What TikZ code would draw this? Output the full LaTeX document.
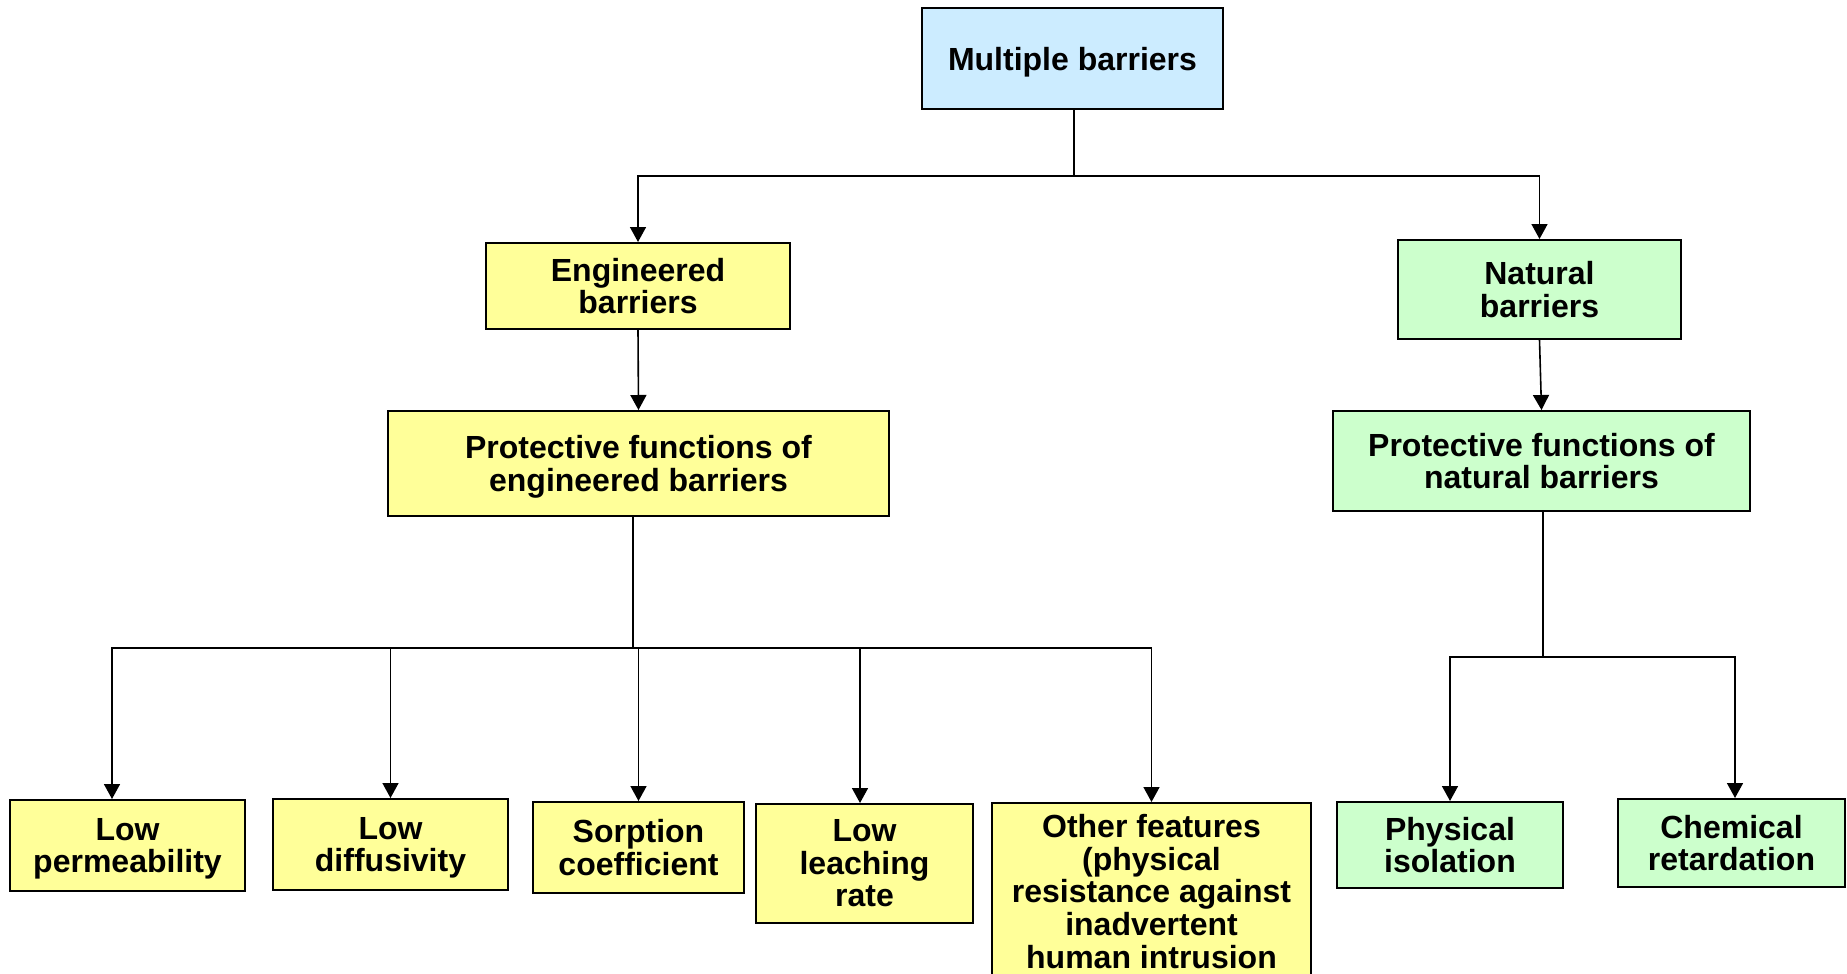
\documentclass[tikz,border=0pt]{standalone}
\usepackage{fontspec}
\setmainfont{Liberation Sans}
\usetikzlibrary{arrows.meta}

\definecolor{boxblue}{RGB}{204,236,255}
\definecolor{boxyellow}{RGB}{255,255,153}
\definecolor{boxgreen}{RGB}{204,255,204}

% a line whose descenders do not count for vertical centring
\newcommand\nodepth[1]{\raisebox{0pt}[\height][0pt]{#1}}

\tikzset{
  box/.style={draw=black, line width=1pt, inner sep=0pt, align=center,
    font=\fontsize{16pt}{16.3pt}\selectfont\bfseries},
  blue box/.style={box, fill=boxblue},
  yellow box/.style={box, fill=boxyellow},
  green box/.style={box, fill=boxgreen},
  conn/.style={draw=black, line width=0.8pt},
  arr/.style={conn, -{Triangle[length=7.5pt,width=8pt]}}
}

\begin{document}
\begin{tikzpicture}[x=0.5pt, y=-0.5pt]
  \clip (0,0) rectangle (1847,974);
  \fill[white] (0,0) rectangle (1847,974);

  % top level
  \node[blue box, minimum width=150.5pt, minimum height=50.5pt] (mb) at (1072.5,58.5) {\nodepth{Multiple barriers}};

  % second level
  \node[yellow box, minimum width=152pt, minimum height=43pt] (eng) at (638,286) {Engineered\\barriers};
  \node[green box, minimum width=141.5pt, minimum height=49.5pt] (nat) at (1539.5,289.5) {Natural\\barriers};

  % protective functions
  \node[yellow box, minimum width=250.5pt, minimum height=52.5pt] (peng) at (638.5,463.5) {Protective functions of\\\nodepth{engineered barriers}};
  \node[green box, minimum width=208.5pt, minimum height=50pt] (pnat) at (1541.5,461) {Protective functions of\\natural barriers};

  % engineered barrier functions
  \node[yellow box, minimum width=117.5pt, minimum height=45.5pt] (lp) at (127.5,845.5) {Low\\\nodepth{permeability}};
  \node[yellow box, minimum width=117.5pt, minimum height=45.5pt] (ld) at (390.5,844.5) {Low\\\nodepth{diffusivity}};
  \node[yellow box, minimum width=105.5pt, minimum height=45.5pt] (sc) at (638.5,847.5) {Sorption\\coefficient};
  \node[yellow box, minimum width=108.5pt, minimum height=59.5pt] (lr) at (864.5,863.5) {Low\\leaching\\rate};
  \node[yellow box, minimum width=159.5pt, minimum height=88.5pt] (of) at (1151.5,891.5) {Other features\\(physical\\resistance against\\inadvertent\\human intrusion};

  % natural barrier functions
  \node[green box, minimum width=113pt, minimum height=43pt] (pi) at (1450,845) {Physical\\isolation};
  \node[green box, minimum width=113.5pt, minimum height=44pt] (cr) at (1731.5,843) {Chemical\\retardation};

  % junction points on the distribution lines
  \coordinate (jt) at (1074,176);
  \coordinate (je) at (633,648);
  \coordinate (jn) at (1543,657);

  % connectors
  \draw[conn] (mb.south -| jt) -- (jt);
  \draw[arr] (jt) -| (eng.north);
  \draw[arr] (jt) -| (nat.north);

  \draw[arr] (eng.south) -- (peng.north);
  \draw[arr] (nat.south) -- (pnat.north);

  \draw[conn] (peng.south -| je) -- (je);
  \draw[arr] (je) -| ([xshift=-7.75pt]lp.north);
  \draw[arr] (je) -| (ld.north);
  \draw[arr] (je) -| (sc.north);
  \draw[arr] (je) -| ([xshift=-2.25pt]lr.north);
  \draw[arr] (je) -| (of.north);

  \draw[conn] (pnat.south -| jn) -- (jn);
  \draw[arr] (jn) -| (pi.north);
  \draw[arr] (jn) -| ([xshift=1.75pt]cr.north);
\end{tikzpicture}
\end{document}
